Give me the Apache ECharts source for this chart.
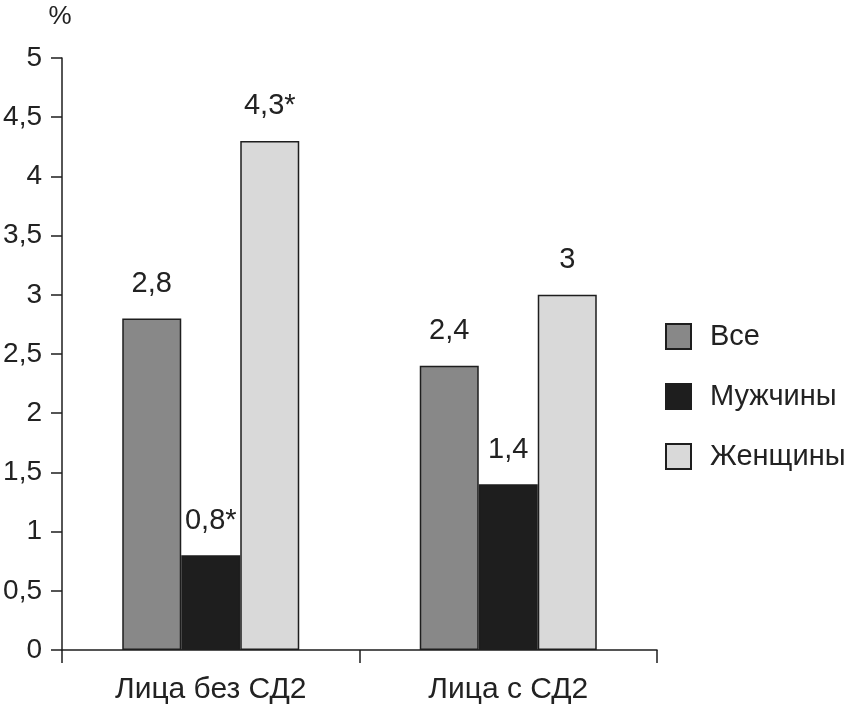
<!DOCTYPE html>
<html>
<head>
<meta charset="utf-8">
<script src="https://cdn.jsdelivr.net/npm/echarts@6/dist/echarts.min.js"></script>
<style>html,body{margin:0;padding:0;background:#fff}#c{width:849px;height:709px}</style>
</head>
<body>
<div id="c"></div>
<script>
var categories = ['Лица без СД2', 'Лица с СД2'];
var seriesNames = ['Все', 'Мужчины', 'Женщины'];
var valuesAll = [2.8, 2.4];
var valuesMen = [0.8, 1.4];
var valuesWomen = [4.3, 3.0];
var labelsAll = ['2,8', '2,4'];
var labelsMen = ['0,8*', '1,4'];
var labelsWomen = ['4,3*', '3'];
var yTicks = ['0', '0,5', '1', '1,5', '2', '2,5', '3', '3,5', '4', '4,5', '5'];
var colors = ['#888888', '#1e1e1e', '#d9d9d9'];

var FONT = '"Liberation Sans", Arial, sans-serif';
var chart = echarts.init(document.getElementById('c'));
function mk(name, vals, labels, color) {
  return {
    name: name, type: 'bar', barWidth: 59, barGap: '0%',
    data: vals,
    itemStyle: { color: color, borderColor: '#1e1e1e', borderWidth: 1.5 },
    label: {
      show: true, position: 'top', distance: 20,
      fontFamily: FONT, fontSize: 29, color: '#222',
      formatter: function (p) { return labels[p.dataIndex]; }
    }
  };
}
chart.setOption({
  animation: false,
  grid: { left: 62, right: 192, top: 58, bottom: 59, containLabel: false },
  xAxis: {
    type: 'category', data: categories,
    axisLine: { lineStyle: { color: '#1e1e1e', width: 1.5 } },
    axisTick: { show: true, length: 13, lineStyle: { color: '#1e1e1e', width: 1.5 } },
    axisLabel: { fontFamily: FONT, fontSize: 30, color: '#222', margin: 25 }
  },
  yAxis: {
    type: 'value', min: 0, max: 5, interval: 0.5,
    name: '%', nameLocation: 'end', nameGap: 28,
    nameTextStyle: { fontFamily: FONT, fontSize: 26, color: '#222', align: 'center', padding: [0, 4, 0, 0] },
    splitLine: { show: false },
    axisLine: { show: true, lineStyle: { color: '#1e1e1e', width: 1.5 } },
    axisTick: { show: true, length: 11, lineStyle: { color: '#1e1e1e', width: 1.5 } },
    axisLabel: {
      fontFamily: FONT, fontSize: 28, color: '#222', margin: 20,
      formatter: function (v) { return yTicks[Math.round(v * 2)]; }
    }
  },
  legend: {
    orient: 'vertical', left: 665, top: 322, padding: 0,
    itemWidth: 25, itemHeight: 25, itemGap: 31,
    icon: 'rect',
    textStyle: { fontFamily: FONT, fontSize: 29, color: '#222', padding: [0, 0, 0, 14] },
    data: seriesNames
  },
  series: [
    mk(seriesNames[0], valuesAll, labelsAll, colors[0]),
    mk(seriesNames[1], valuesMen, labelsMen, colors[1]),
    mk(seriesNames[2], valuesWomen, labelsWomen, colors[2])
  ]
});
</script>
</body>
</html>
